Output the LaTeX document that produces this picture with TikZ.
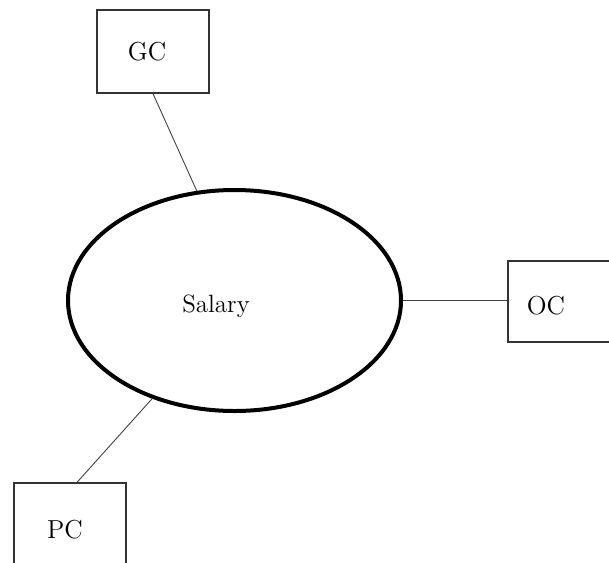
\documentclass[tikz,border=0pt]{standalone}
\usetikzlibrary{shapes.geometric}
\tikzset{
  box/.style={draw=black!80, line width=0.65pt, rectangle, inner sep=0pt},
  boxtext/.style={font=\fontsize{13}{15}\selectfont},
  hub/.style={draw=black, line width=2pt, ellipse, inner sep=0pt,
              minimum width=166.5pt, minimum height=110.5pt},
  link/.style={draw=black!75, line width=0.45pt}
}
\begin{document}
\begin{tikzpicture}[x=0.5pt, y=-0.5pt]
  \clip (0,0) rectangle (609,562);
  \useasboundingbox (0,0) rectangle (609,562);
  \node[box, minimum width=56pt, minimum height=41.5pt,
        label={[boxtext, xshift=-3pt]center:GC}] (gc) at (153,51.5) {};
  \node[hub, label={[font=\fontsize{12.5}{15}\selectfont, xshift=-9.25pt, yshift=-2.75pt]center:Salary}] (sal) at (234.5,300.5) {};
  \node[box, minimum width=66pt, minimum height=40.5pt,
        label={[boxtext, xshift=-14pt, yshift=-2.25pt]center:OC}] (oc) at (574,301.5) {};
  \node[box, minimum width=56pt, minimum height=47pt,
        label={[boxtext, xshift=-2.5pt]center:PC}] (pc) at (70,530) {};
  \draw[link] (gc.south) -- (sal.109.7);
  \draw[link] (sal.east) -- (sal.east -| oc.west);
  \draw[link] (sal.230.9) -- ([xshift=3.5pt]pc.north);
\end{tikzpicture}
\end{document}
